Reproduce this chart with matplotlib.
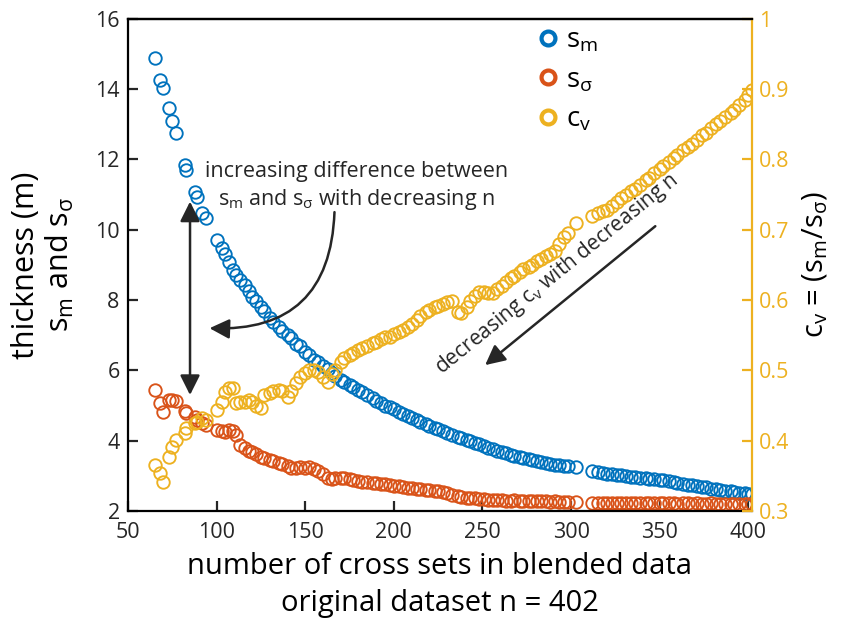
import matplotlib
matplotlib.use("Agg")
import matplotlib.pyplot as plt
from matplotlib.lines import Line2D

plt.rcParams['font.family'] = ['Open Sans', 'DejaVu Sans']
plt.rcParams['mathtext.default'] = 'regular'

# number of cross sets kept in each blended dataset
n_sets = [65, 68, 70, 73, 75, 77, 82, 83, 88, 89, 92, 94, 100, 103, 105, 107, 109,
          111, 113, 116, 118, 120, 122, 125, 127, 130, 132, 135, 137, 140, 142, 145,
          147, 150, 152, 155, 157, 160, 163, 165, 167, 170, 172, 175, 177, 180, 182,
          185, 188, 190, 193, 195, 198, 200, 203, 205, 208, 210, 213, 215, 218, 220,
          223, 225, 228, 230, 233, 236, 238, 241, 243, 246, 248, 251, 253, 256, 258,
          261, 263, 266, 268, 271, 273, 276, 278, 281, 283, 286, 288, 291, 293, 296,
          298, 303, 312, 315, 318, 320, 323, 326, 328, 331, 334, 336, 339, 342, 344,
          347, 350, 352, 355, 358, 360, 363, 366, 368, 371, 374, 376, 379, 382, 384,
          387, 390, 392, 395, 398, 400, 402]

# mean thickness s_m (m)
s_m = [14.89, 14.25, 14.04, 13.47, 13.10, 12.76, 11.85, 11.70, 11.08, 10.94, 10.48,
       10.34, 9.71, 9.48, 9.31, 9.08, 8.86, 8.72, 8.58, 8.43, 8.25, 8.09, 7.98, 7.81,
       7.70, 7.49, 7.38, 7.24, 7.12, 7.00, 6.92, 6.75, 6.68, 6.52, 6.45, 6.30, 6.24,
       6.12, 6.04, 5.92, 5.84, 5.74, 5.68, 5.58, 5.52, 5.45, 5.38, 5.30, 5.22, 5.14,
       5.06, 5.00, 4.96, 4.90, 4.82, 4.76, 4.70, 4.66, 4.58, 4.54, 4.48, 4.43, 4.36,
       4.32, 4.28, 4.22, 4.17, 4.11, 4.08, 4.02, 3.98, 3.93, 3.90, 3.85, 3.79, 3.76,
       3.72, 3.67, 3.64, 3.60, 3.57, 3.53, 3.51, 3.47, 3.44, 3.41, 3.39, 3.36, 3.34,
       3.31, 3.30, 3.28, 3.27, 3.25, 3.13, 3.10, 3.08, 3.06, 3.05, 3.03, 3.02, 3.00,
       2.98, 2.97, 2.95, 2.93, 2.92, 2.91, 2.89, 2.87, 2.85, 2.83, 2.81, 2.78, 2.75,
       2.73, 2.71, 2.69, 2.67, 2.64, 2.62, 2.60, 2.58, 2.56, 2.54, 2.52, 2.50, 2.49,
       2.48]

# standard deviation s_sigma (m)
s_sig = [5.44, 5.07, 4.82, 5.16, 5.16, 5.12, 4.85, 4.80, 4.68, 4.60, 4.50, 4.45, 4.30,
         4.27, 4.25, 4.30, 4.28, 4.16, 3.88, 3.80, 3.72, 3.68, 3.62, 3.54, 3.50, 3.45,
         3.42, 3.38, 3.35, 3.28, 3.22, 3.22, 3.25, 3.22, 3.24, 3.20, 3.15, 3.05, 2.94,
         2.92, 2.95, 2.94, 2.93, 2.90, 2.88, 2.85, 2.84, 2.82, 2.80, 2.80, 2.78, 2.76,
         2.74, 2.72, 2.70, 2.68, 2.66, 2.65, 2.64, 2.62, 2.61, 2.60, 2.58, 2.56, 2.54,
         2.50, 2.46, 2.43, 2.40, 2.38, 2.37, 2.36, 2.35, 2.33, 2.32, 2.31, 2.31, 2.31,
         2.30, 2.30, 2.31, 2.30, 2.29, 2.29, 2.28, 2.28, 2.28, 2.28, 2.27, 2.28, 2.27,
         2.27, 2.26, 2.26, 2.23, 2.24, 2.23, 2.23, 2.24, 2.23, 2.23, 2.23, 2.22, 2.23,
         2.23, 2.22, 2.23, 2.22, 2.22, 2.23, 2.22, 2.22, 2.21, 2.22, 2.22, 2.21, 2.22,
         2.21, 2.21, 2.22, 2.21, 2.21, 2.20, 2.21, 2.21, 2.20, 2.20, 2.21, 2.20]

# coefficient of variation c_v
c_v = [0.365, 0.354, 0.341, 0.377, 0.391, 0.401, 0.411, 0.418, 0.425, 0.427, 0.432,
       0.430, 0.444, 0.455, 0.469, 0.475, 0.475, 0.454, 0.455, 0.455, 0.458, 0.455,
       0.450, 0.447, 0.465, 0.468, 0.470, 0.472, 0.470, 0.462, 0.470, 0.482, 0.490,
       0.496, 0.501, 0.500, 0.498, 0.490, 0.484, 0.495, 0.501, 0.512, 0.518, 0.522,
       0.525, 0.529, 0.532, 0.535, 0.539, 0.541, 0.544, 0.547, 0.548, 0.552, 0.555,
       0.558, 0.562, 0.566, 0.572, 0.578, 0.583, 0.586, 0.590, 0.592, 0.595, 0.597,
       0.598, 0.583, 0.582, 0.590, 0.598, 0.606, 0.612, 0.611, 0.610, 0.610, 0.616,
       0.620, 0.626, 0.631, 0.634, 0.640, 0.644, 0.647, 0.650, 0.655, 0.658, 0.662,
       0.665, 0.670, 0.680, 0.690, 0.695, 0.710, 0.720, 0.724, 0.727, 0.728, 0.734,
       0.740, 0.745, 0.750, 0.755, 0.758, 0.763, 0.770, 0.774, 0.780, 0.786, 0.790,
       0.796, 0.802, 0.806, 0.813, 0.818, 0.822, 0.828, 0.834, 0.838, 0.844, 0.850,
       0.854, 0.860, 0.866, 0.870, 0.877, 0.885, 0.892, 0.899]

blue = '#0072BD'
orange = '#D95319'
yellow = '#EDB120'
ink = '#262626'

fig = plt.figure(figsize=(8.42, 6.24), dpi=100)
ax = fig.add_axes([0.152, 0.181, 0.741, 0.789])
ax2 = ax.twinx()

mk = dict(marker='o', linestyle='none', markerfacecolor='none', markersize=9,
          markeredgewidth=1.35)
ax.plot(n_sets, s_m, markeredgecolor=blue, **mk)
ax.plot(n_sets, s_sig, markeredgecolor=orange, **mk)
ax2.plot(n_sets, c_v, markeredgecolor=yellow, **mk)

ax.set_xlim(50, 402)
ax.set_ylim(2, 16)
ax2.set_ylim(0.3, 1)
ax.set_xticks([50, 100, 150, 200, 250, 300, 350, 400])
ax.set_yticks([2, 4, 6, 8, 10, 12, 14, 16])
ax2.set_yticks([0.3, 0.4, 0.5, 0.6, 0.7, 0.8, 0.9, 1])
ax2.set_yticklabels(['0.3', '0.4', '0.5', '0.6', '0.7', '0.8', '0.9', '1'])

for a in (ax, ax2):
    for s in a.spines.values():
        s.set_linewidth(1.6)
    a.tick_params(direction='in', length=7, width=1.6, labelsize=15.5)
ax.spines['right'].set_visible(False)
ax2.spines['left'].set_visible(False)
ax2.spines['bottom'].set_visible(False)
ax2.spines['right'].set_color(yellow)
ax2.tick_params(axis='y', colors=yellow, pad=5)
ax.tick_params(axis='both', colors=ink)
ax.tick_params(axis='x', pad=8)
ax.tick_params(axis='y', pad=6)

ax.set_xlabel('number of cross sets in blended data\noriginal dataset n = 402',
              fontsize=21, linespacing=1.38, labelpad=6)
ax.set_ylabel('thickness (m)\n$s_m$ and $s_σ$', fontsize=22, linespacing=1.1,
              labelpad=14)
ax2.set_ylabel('$c_v$ = ($s_m$/$s_σ$)', fontsize=21, labelpad=8)

# legend with thicker marker rings
handles = [Line2D([], [], marker='o', linestyle='none', markerfacecolor='none',
                  markeredgecolor=c, markersize=10, markeredgewidth=3)
           for c in (blue, orange, yellow)]
ax.legend(handles, ['$s_m$', '$s_σ$', '$c_v$'], loc='upper left',
          bbox_to_anchor=(0.607, 1.035), frameon=False, fontsize=20,
          handletextpad=0.05, labelspacing=0.42, handlelength=1.2)

# annotations
ax.text(179, 11.95, 'increasing difference between\n$s_m$ and $s_σ$ with decreasing n',
        ha='center', va='top', fontsize=15.5, color=ink, linespacing=1.25)
arrow_kw = dict(arrowstyle='-|>', color=ink, lw=1.8, mutation_scale=30,
                shrinkA=0, shrinkB=0)
ax.annotate('', xy=(96, 7.2), xytext=(166.5, 10.5),
            arrowprops=dict(connectionstyle='arc3,rad=-0.5', **arrow_kw))
ax.annotate('', xy=(85, 5.3), xytext=(85, 10.8),
            arrowprops=dict(arrowstyle='<|-|>', color=ink, lw=1.8,
                            mutation_scale=30, shrinkA=0, shrinkB=0))
ax.annotate('', xy=(251.5, 6.15), xytext=(347.5, 10.1), arrowprops=arrow_kw)
ax.text(292, 8.75, 'decreasing $c_v$ with decreasing n', rotation=39,
        rotation_mode='anchor', ha='center', va='center', fontsize=15,
        color=ink)

fig.savefig('out.png', dpi=100)
